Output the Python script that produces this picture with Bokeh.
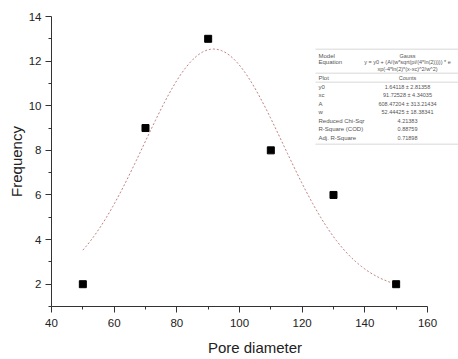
import numpy as np
from bokeh.plotting import figure
from bokeh.models import FixedTicker, Label, BoxAnnotation, Range1d
from bokeh.embed import file_html
from bokeh.resources import INLINE

# data
pore_diameter = [50, 70, 90, 110, 130, 150]
frequency = [2, 9, 13, 8, 6, 2]

# Gauss fit parameters (from the fit table)
fit_y0 = 1.64118
fit_xc = 91.72528
fit_A = 608.47204
fit_w = 52.44425

x_ticks = [40, 60, 80, 100, 120, 140, 160]
x_minor = [50, 70, 90, 110, 130, 150]
y_ticks = [2, 4, 6, 8, 10, 12, 14]
y_minor = [1, 3, 5, 7, 9, 11, 13]

table_labels = ["Model", "Equation", "", "Plot", "y0", "xc", "A", "w",
                "Reduced Chi-Sqr", "R-Square (COD)", "Adj. R-Square"]
table_values = ["Gauss", "y = y0 + (A/(w*sqrt(pi/(4*ln(2))))) * e",
                "xp(-4*ln(2)*(x-xc)^2/w^2)", "Counts",
                "1.64118 \u00b1 2.81358", "91.72528 \u00b1 4.34035",
                "608.47204 \u00b1 313.21434", "52.44425 \u00b1 18.38341",
                "4.21383", "0.88759", "0.71898"]

FONT = "Liberation Sans"

p = figure(width=458, height=359, output_backend="svg", toolbar_location=None,
           x_range=Range1d(40, 169.9), y_range=Range1d(1, 14),
           min_border_left=51, min_border_right=0, min_border_top=16,
           min_border_bottom=53)
p.outline_line_color = None
p.grid.grid_line_color = None
p.background_fill_color = "white"

for ax in (p.xaxis[0], p.yaxis[0]):
    ax.major_label_text_font = FONT
    ax.axis_label_text_font = FONT
    ax.major_label_text_font_size = "11.5px"
    ax.axis_label_text_font_size = "15px"
    ax.axis_label_text_font_style = "normal"
    ax.major_label_text_color = "#222222"
    ax.axis_label_text_color = "#222222"
    ax.axis_line_color = "#333333"
    ax.major_tick_line_color = "#333333"
    ax.minor_tick_line_color = "#333333"
    ax.major_tick_out = 6
    ax.major_tick_in = 0
    ax.minor_tick_out = 3
    ax.minor_tick_in = 0

p.xaxis.major_label_standoff = 6
p.xaxis.axis_label_standoff = 9
p.yaxis.major_label_standoff = 4
p.yaxis.axis_label_standoff = 1

p.xaxis.ticker = FixedTicker(ticks=x_ticks, minor_ticks=x_minor)
p.yaxis.ticker = FixedTicker(ticks=y_ticks, minor_ticks=y_minor)
p.xaxis.bounds = (x_ticks[0], x_ticks[-1])
p.xaxis.axis_label = "Pore diameter"
p.yaxis.axis_label = "Frequency"

# fit curve
xs = np.linspace(pore_diameter[0], pore_diameter[-1], 200)
ys = fit_y0 + (fit_A / (fit_w * np.sqrt(np.pi / (4 * np.log(2))))) * \
    np.exp(-4 * np.log(2) * (xs - fit_xc) ** 2 / fit_w ** 2)
p.line(xs, ys, line_color="#b87272", line_width=1, line_dash="2 2",
       line_alpha=0.9)

p.scatter(pore_diameter, frequency, marker="square", size=7,
          fill_color="black", line_color="black")

# fit table (screen units relative to frame)
row_y = [251, 245, 238, 229, 220, 212, 203, 195, 186, 178, 169]
for lab, val, yy in zip(table_labels, table_values, row_y):
    if lab:
        p.add_layout(Label(x=267, y=yy, x_units="screen", y_units="screen",
                           text=lab, text_font=FONT, text_font_size="6px",
                           text_color="#555555", text_baseline="middle"))
    p.add_layout(Label(x=356, y=yy, x_units="screen", y_units="screen",
                       text=val, text_font=FONT, text_font_size="5.5px",
                       text_color="#555555", text_baseline="middle",
                       text_align="center"))

for ly in [257, 233, 224, 162]:
    p.add_layout(BoxAnnotation(left=264, right=420, bottom=ly, top=ly + 0.8,
                               left_units="screen", right_units="screen",
                               bottom_units="screen", top_units="screen",
                               fill_color="#cccccc", fill_alpha=1,
                               line_alpha=0))

open("out.html", "w").write(file_html(p, INLINE))
